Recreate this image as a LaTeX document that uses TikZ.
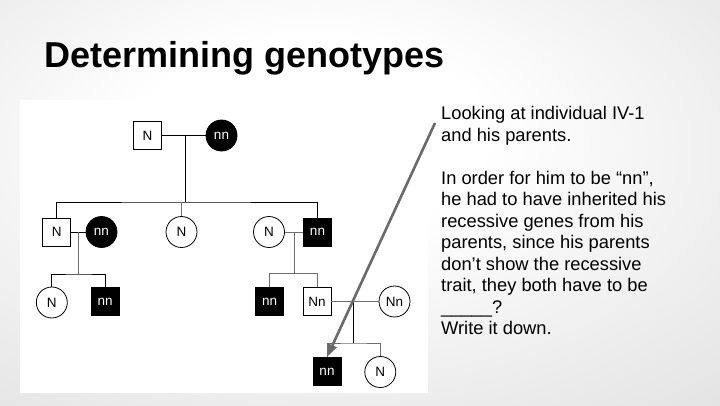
\documentclass[tikz,border=0pt]{standalone}
\usepackage{fontspec}
\setmainfont{Liberation Sans}
\usepackage{xcolor}
\definecolor{lineagris}{HTML}{6E6E6E}
\definecolor{flechagris}{HTML}{6A6A6A}
\definecolor{fondogris}{HTML}{C4C4C4}
\usetikzlibrary{arrows.meta, positioning}
\pgfdeclareradialshading{fondoslide}{\pgfpoint{-4bp}{10bp}}{%
  color(0bp)=(white); color(12bp)=(white); color(72bp)=(fondogris)}

\begin{document}
\begin{tikzpicture}[
  x=1pt, y=-1pt,
  male/.style={
    rectangle, draw=black, fill=white, line width=0.8pt,
    minimum size=28pt, inner sep=0pt,
    font=\fontsize{13.5}{13.5}\selectfont
  },
  maleaff/.style={male, fill=black, text=white},
  fem/.style={
    circle, draw=black, fill=white, line width=0.8pt,
    minimum size=31pt, inner sep=0pt,
    font=\fontsize{13.5}{13.5}\selectfont
  },
  femaff/.style={fem, fill=black, text=white},
  tie/.style={black, line width=0.9pt},
  gtie/.style={lineagris, line width=0.9pt},
  arr/.style={-{Triangle[length=13pt, width=9pt]}, flechagris, line width=2.6pt}
]
  % fondo y marco de la imagen
  \path[shading=fondoslide] (0,0) rectangle (720,405);
  \fill[white] (20,100) rectangle (428,393);
  \useasboundingbox (0,0) rectangle (720,405);

  \node[anchor=base west, inner sep=0pt,
        font=\fontsize{36}{36}\selectfont\bfseries] (titulo) at (44,67)
    {Determining genotypes};

  % generacion I
  \node[male] (I1) at (147.5,135.5) {N};
  \node[femaff] (I2) at (221.5,135.5) {nn};
  % generacion II
  \node[male] (II1) at (56.7,232) {N};
  \node[femaff] (II2) at (101.5,232) {nn};
  \node[fem] (II3) at (181.5,232) {N};
  \node[fem] (II4) at (269,232) {N};
  \node[maleaff] (II5) at (317.5,232) {nn};
  % generacion III
  \node[fem] (III1) at (51.8,302.5) {N};
  \node[maleaff] (III2) at (105.2,301.5) {nn};
  \node[maleaff] (III3) at (269.7,301.5) {nn};
  \node[male] (III4) at (317,301.5) {Nn};
  \node[fem] (III5) at (394.5,301.5) {Nn};
  % generacion IV
  \node[maleaff] (IV1) at (327,371.5) {nn};
  \node[fem] (IV2) at (380.3,372) {N};

  \coordinate (m1) at (185,135.5);
  \coordinate (s1) at (185,202);
  \coordinate (m2) at (78.3,232);
  \coordinate (s2) at (78.3,274);
  \coordinate (m3) at (294.3,232);
  \coordinate (s3) at (294.3,273.3);
  \coordinate (m4) at (353.3,301.5);
  \coordinate (s4) at (353.3,343);
  \coordinate (ptr) at (435,123);

  \draw[tie] (I1) -- (I2);
  \draw[tie] (m1) -- (s1);
  \draw[tie] (II1) |- (s1) -| (II5);
  \draw[gtie] (II3) -- (II3 |- s1);
  \draw[tie] (II1) -- (II2);
  \draw[gtie] (m2) -- (s2);
  \draw[tie] (III1) |- (s2) -| (III2);
  \draw[gtie] (II4) -- (II5);
  \draw[gtie] (m3) -- (s3);
  \draw[gtie] (III3) |- (s3) -| (III4);
  \draw[gtie] (III4) -- (III5);
  \draw[tie] (m4) -- (s4);
  \draw[gtie] (IV1) |- (s4) -| (IV2);

  \draw[arr] (ptr) -- (IV1.north);

  \node[anchor=north west, inner sep=0pt, align=left,
        font=\fontsize{18.3}{21.5}\selectfont] (texto) at (441,106.5)
    {Looking at individual IV-1\\
     and his parents.\\[21.5pt]
     In order for him to be “nn”,\\
     he had to have inherited his\\
     recessive genes from his\\
     parents, since his parents\\
     don’t show the recessive\\
     trait, they both have to be\\
     \_\_\_\_\_?\\
     Write it down.};
\end{tikzpicture}
\end{document}
